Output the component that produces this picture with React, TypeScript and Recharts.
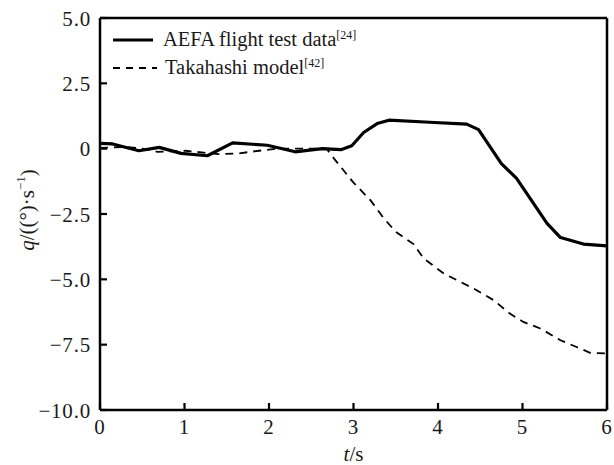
import React from 'react';
import { LineChart, Line, XAxis, YAxis, ReferenceLine, Legend } from 'recharts';

// AEFA flight test data [24]
const tAefa = [0, 0.15, 0.46, 0.7, 0.96, 1.27, 1.57, 1.98, 2.31, 2.63, 2.85, 2.98, 3.12, 3.28, 3.42, 3.9, 4.34, 4.48, 4.75, 4.93, 5.29, 5.45, 5.72, 6.0];
const qAefa = [0.2, 0.18, -0.08, 0.05, -0.18, -0.27, 0.22, 0.13, -0.12, 0.0, -0.04, 0.11, 0.62, 0.96, 1.09, 1.01, 0.94, 0.73, -0.57, -1.14, -2.86, -3.4, -3.65, -3.72];

// Takahashi model [42]
const tTaka = [0, 0.3, 0.5, 0.68, 1.01, 1.4, 1.64, 1.88, 2.1, 2.5, 2.68, 2.77, 3.0, 3.2, 3.36, 3.5, 3.71, 3.83, 4.07, 4.42, 4.66, 4.85, 5.01, 5.21, 5.45, 5.64, 5.8, 6.0];
const qTaka = [0.03, 0.07, 0.0, -0.12, -0.08, -0.21, -0.18, -0.08, 0.0, 0.0, 0.0, -0.38, -1.3, -1.97, -2.67, -3.18, -3.65, -4.2, -4.78, -5.35, -5.8, -6.31, -6.63, -6.88, -7.33, -7.59, -7.81, -7.84];

const xTicks = [0, 1, 2, 3, 4, 5, 6];
const yTicks = [5, 2.5, 0, -2.5, -5, -7.5, -10];

const seriesNames: Record<string, string> = {
  aefa: 'AEFA flight test data',
  taka: 'Takahashi model',
};
const seriesRefs: Record<string, string> = {
  aefa: '[24]',
  taka: '[42]',
};

const aefaData = tAefa.map((t, i) => ({ t, aefa: qAefa[i] }));
const takaData = tTaka.map((t, i) => ({ t, taka: qTaka[i] }));

const FONT = "'Liberation Serif', 'Times New Roman', serif";
const INK = '#000';
const TXT = '#1a1a1a';

const fmtY = (v: number) => {
  if (v === 0) return '0';
  const s = Math.abs(v).toFixed(1);
  return v < 0 ? '\u2212' + s : s;
};

const Y_MARGIN = 9;
const X_MARGIN = 9;
const TICK_LEN = 7;

const textStyle = { fontFamily: FONT, fontSize: 21, fill: TXT, letterSpacing: 0.8 } as const;

const YTick = (props: any) => {
  const { x, y, payload } = props;
  const ax = x + Y_MARGIN;
  return (
    <g>
      <line x1={ax} x2={ax + TICK_LEN} y1={y} y2={y} stroke={INK} strokeWidth={2.2} />
      <text x={x} y={y} dy="0.36em" textAnchor="end" style={textStyle}>
        {fmtY(payload.value)}
      </text>
    </g>
  );
};

const XTick = (props: any) => {
  const { x, y, payload } = props;
  const ay = y - X_MARGIN;
  return (
    <g>
      <line x1={x} x2={x} y1={ay} y2={ay - TICK_LEN} stroke={INK} strokeWidth={2.2} />
      <text x={x} y={y} dy="0.71em" textAnchor="middle" style={textStyle}>
        {String(payload.value)}
      </text>
    </g>
  );
};

const LegendContent = (props: any) => {
  const { payload } = props;
  return (
    <div style={{ fontFamily: FONT, fontSize: 20.5, color: TXT, lineHeight: '28px' }}>
      {(payload || []).map((entry: any) => {
        const key = entry.dataKey as string;
        const dashed = key === 'taka';
        return (
          <div key={key} style={{ display: 'flex', alignItems: 'center', height: 28 }}>
            <svg width={dashed ? 52 : 50} height={10} style={{ display: 'block' }}>
              <line
                x1={0}
                x2={dashed ? 44 : 40}
                y1={5}
                y2={5}
                stroke={INK}
                strokeWidth={dashed ? 1.8 : 3.2}
                strokeDasharray={dashed ? '7 6' : undefined}
              />
            </svg>
            <span style={{ whiteSpace: 'nowrap' }}>
              {seriesNames[key]}
              <span style={{ fontSize: 12, position: 'relative', top: -7 }}>{seriesRefs[key]}</span>
            </span>
          </div>
        );
      })}
    </div>
  );
};

const YLabel = (props: any) => {
  const vb = props.viewBox || {};
  const cx = 27;
  const cy = (vb.y ?? 18) + (vb.height ?? 392) / 2 - 4;
  return (
    <text
      x={cx}
      y={cy}
      transform={`rotate(-90 ${cx} ${cy})`}
      textAnchor="middle"
      dy="0.35em"
      style={{ fontFamily: FONT, fontSize: 21, fill: TXT }}
    >
      <tspan fontStyle="italic">q</tspan>
      <tspan>/((°)·s</tspan>
      <tspan style={{ fontSize: 13 }} dy="-0.7em">−1</tspan>
      <tspan dy="0.45em">)</tspan>
    </text>
  );
};

const XLabel = (props: any) => {
  const vb = props.viewBox || {};
  const cx = (vb.x ?? 100) + (vb.width ?? 507) / 2;
  const y = 461;
  return (
    <text x={cx} y={y} textAnchor="middle" style={{ fontFamily: FONT, fontSize: 21, fill: TXT }}>
      <tspan fontStyle="italic">t</tspan>
      <tspan>/s</tspan>
    </text>
  );
};

export default function App() {
  return (
    <div style={{ position: 'absolute', left: 0, top: 0, width: 614, height: 465, background: '#fff' }}>
      <LineChart width={614} height={465} margin={{ top: 18, right: 7, bottom: 0, left: 0 }}>
        <XAxis
          dataKey="t"
          type="number"
          domain={[0, 6]}
          ticks={xTicks}
          allowDataOverflow
          height={55}
          tickSize={0}
          tickMargin={X_MARGIN}
          tickLine={false}
          tick={<XTick />}
          axisLine={{ stroke: INK, strokeWidth: 2.5 }}
          label={<XLabel />}
          interval={0}
        />
        <YAxis
          type="number"
          domain={[-10, 5]}
          ticks={yTicks}
          allowDataOverflow
          width={100}
          tickSize={0}
          tickMargin={Y_MARGIN}
          tickLine={false}
          tick={<YTick />}
          axisLine={{ stroke: INK, strokeWidth: 2.5 }}
          label={<YLabel />}
          interval={0}
        />
        <ReferenceLine y={5} stroke={INK} strokeWidth={2.5} />
        <ReferenceLine x={6} stroke={INK} strokeWidth={2.5} />
        <Line
          data={aefaData}
          dataKey="aefa"
          name={seriesNames.aefa}
          type="linear"
          stroke={INK}
          strokeWidth={3.2}
          dot={false}
          activeDot={false}
          isAnimationActive={false}
          strokeLinejoin="round"
        />
        <Line
          data={takaData}
          dataKey="taka"
          name={seriesNames.taka}
          type="linear"
          stroke={INK}
          strokeWidth={1.8}
          strokeDasharray="8 6"
          dot={false}
          activeDot={false}
          isAnimationActive={false}
        />
        <Legend
          layout="horizontal"
          verticalAlign="middle"
          align="center"
          content={<LegendContent />}
          wrapperStyle={{ position: 'absolute', left: 113, top: 26, width: 'auto', height: 'auto' }}
        />
      </LineChart>
    </div>
  );
}
